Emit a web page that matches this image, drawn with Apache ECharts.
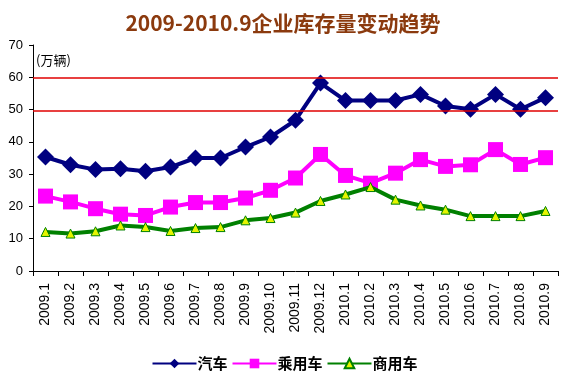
<!DOCTYPE html>
<html><head><meta charset="utf-8">
<script src="https://cdn.jsdelivr.net/npm/echarts@6/dist/echarts.min.js"></script>
<style>html,body{margin:0;padding:0;background:#fff}#c{width:569px;height:388px}</style>
</head><body><div id="c"></div>
<script>
const categories = ['2009.1','2009.2','2009.3','2009.4','2009.5','2009.6','2009.7','2009.8','2009.9','2009.10','2009.11','2009.12','2010.1','2010.2','2010.3','2010.4','2010.5','2010.6','2010.7','2010.8','2010.9'];
const autoValues = [35.3,32.9,31.4,31.7,30.9,32.2,35.0,35.0,38.4,41.5,46.7,58.2,52.8,52.8,52.8,54.7,51.1,50.1,54.7,50.1,53.7];
const passengerValues = [23.2,21.4,19.3,17.6,17.2,19.8,21.2,21.2,22.6,25.0,28.8,36.1,29.6,27.2,30.3,34.5,32.4,32.9,37.6,33.0,35.1];
const commercialValues = [12.1,11.6,12.3,14.1,13.6,12.4,13.3,13.6,15.7,16.4,18.1,21.7,23.7,26.0,22.1,20.3,19.0,17.0,17.0,17.0,18.6];
const refLines = [60, 49.5];
const seriesNames = ['汽车','乘用车','商用车'];

const chart = echarts.init(document.getElementById('c'));
chart.setOption({
  animation: false,
  title: {
    text: '2009-2010.9企业库存量变动趋势',
    left: 278, top: 8, textAlign: 'center',
    textStyle: {color: '#8B3A0E', fontSize: 21, fontWeight: 'bold', fontFamily: '"Noto Sans CJK SC", sans-serif'}
  },
  graphic: [{type: 'text', left: 36, top: 54, style: {text: '(万辆)', fontSize: 13, fill: '#000', fontFamily: '"Noto Sans CJK SC", sans-serif'}}],
  legend: {
    bottom: 12, left: 'center', itemGap: 4, itemWidth: 44, itemHeight: 12,
    textStyle: {fontSize: 15, fontWeight: 'bold', color: '#000', fontFamily: '"Noto Sans CJK SC", sans-serif', padding: [0,0,0,-4]},
    data: seriesNames
  },
  grid: {left: 33, right: 11, top: 45, bottom: 117},
  xAxis: {
    type: 'category', data: categories, boundaryGap: true,
    axisLine: {lineStyle: {color: '#000', width: 1}},
    axisTick: {show: true, length: 5, inside: false, lineStyle: {color: '#000'}},
    axisLabel: {rotate: 90, fontSize: 14, color: '#000', margin: 12, interval: 0, fontFamily: 'Arial, "Liberation Sans", sans-serif'},
    splitLine: {show: false}
  },
  yAxis: {
    type: 'value', min: 0, max: 70, interval: 10,
    axisLine: {show: true, lineStyle: {color: '#000'}},
    axisTick: {show: true, length: 4, lineStyle: {color: '#000'}},
    axisLabel: {fontSize: 13, color: '#000', margin: 10, fontFamily: 'Arial, "Liberation Sans", sans-serif'},
    splitLine: {show: false}
  },
  series: [
    {name: seriesNames[0], type: 'line', data: autoValues, symbol: 'diamond', symbolSize: 17, z: 3,
     lineStyle: {color: '#000080', width: 4}, itemStyle: {color: '#000080'}},
    {name: seriesNames[1], type: 'line', data: passengerValues, symbol: 'rect', symbolSize: 15, z: 2,
     lineStyle: {color: '#FF00FF', width: 4}, itemStyle: {color: '#FF00FF'}},
    {name: seriesNames[2], type: 'line', data: commercialValues, symbol: 'triangle', symbolSize: 9, z: 4,
     lineStyle: {color: '#008000', width: 4}, itemStyle: {color: '#E5F500', borderColor: '#008000', borderWidth: 1}},
    {name: 'ref', type: 'line', data: [], z: 1, silent: true,
     itemStyle: {color: '#E00000'}, lineStyle: {color: '#E00000'},
     markLine: {silent: true, symbol: ['none', 'none'], label: {show: false}, animation: false,
       itemStyle: {color: '#E00000'},
       lineStyle: {color: '#E00000', width: 1.5, type: 'solid', opacity: 1},
       emphasis: {disabled: true},
       data: refLines.map(v => ({yAxis: v}))}}
  ]
});
</script></body></html>
